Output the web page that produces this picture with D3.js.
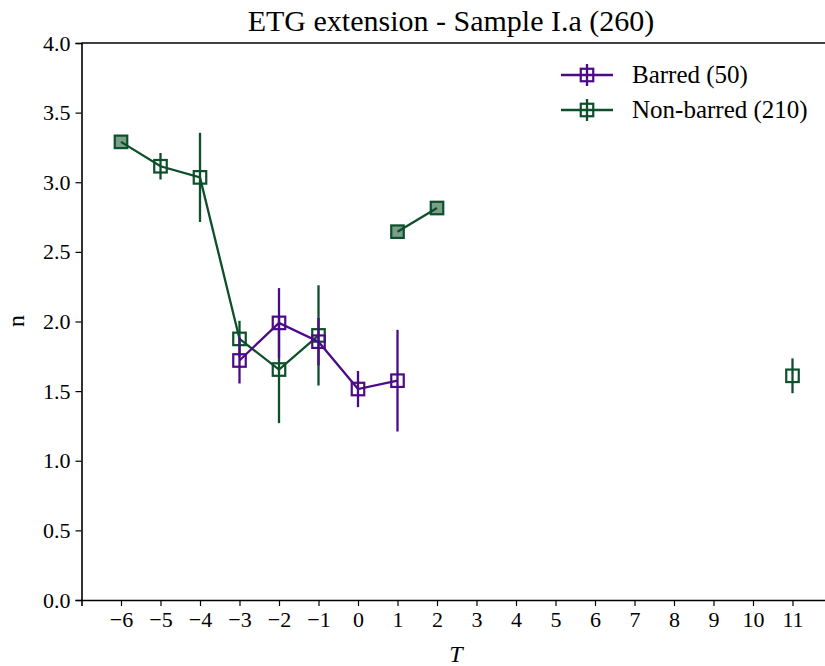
<!DOCTYPE html>
<html>
<head>
<meta charset="utf-8">
<script src="https://cdn.jsdelivr.net/npm/d3@7"></script>
<style>
  html, body { margin: 0; padding: 0; background: #fff; }
  svg text { font-family: "Liberation Serif", "Times New Roman", Times, serif; }
</style>
</head>
<body>
<svg id="chart" width="825" height="666"></svg>
<script>
const FONT = "Liberation Serif, Times New Roman, Times, serif";

// Morphological type T on the x axis
const tValues = [-6, -5, -4, -3, -2, -1, 0, 1, 2, 3, 4, 5, 6, 7, 8, 9, 10, 11];
const yTicks = [0.0, 0.5, 1.0, 1.5, 2.0, 2.5, 3.0, 3.5, 4.0];

// Barred galaxies: T, mean n, error
const barredT   = [-3, -2, -1, 0, 1];
const barredN   = [1.72, 1.99, 1.855, 1.515, 1.575];
const barredErr = [0.165, 0.25, 0.17, 0.13, 0.365];
const barredFilled = [false, false, false, false, false];

// Non-barred galaxies (null = no galaxies at that T, which breaks the line)
const nonbarT   = [-6, -5, -4, -3, -2, -1, 0, 1, 2, 3, 4, 5, 6, 7, 8, 9, 10, 11];
const nonbarN   = [3.29, 3.115, 3.035, 1.875, 1.655, 1.90, null, 2.645, 2.815, null, null, null, null, null, null, null, null, 1.61];
const nonbarErr = [0, 0.095, 0.32, 0.13, 0.385, 0.36, null, 0, 0, null, null, null, null, null, null, null, null, 0.125];
const nonbarFilled = [true, false, false, false, false, false, false, true, true, false, false, false, false, false, false, false, false, false];

const series = [
  { name: "Non-barred (210)", color: "#0c4f2a", fill: "rgba(12,79,42,0.55)", t: nonbarT, n: nonbarN, err: nonbarErr, filled: nonbarFilled },
  { name: "Barred (50)", color: "#4b0a87", fill: "rgba(75,10,135,0.55)", t: barredT, n: barredN, err: barredErr, filled: barredFilled }
];
const legendOrder = [series[1], series[0]];

const svg = d3.select("#chart");
const x = d3.scaleLinear().domain([-7, 12]).range([81.5, 832]);
const y = d3.scaleLinear().domain([0, 4]).range([600, 43]);

// Axes
const xAxis = d3.axisBottom(x).tickValues(tValues).tickSize(6).tickPadding(5)
  .tickFormat(d => d < 0 ? "\u2212" + Math.abs(d) : String(d));
const yAxis = d3.axisLeft(y).tickValues(yTicks).tickSize(6).tickPadding(5)
  .tickFormat(d3.format(".1f"));

const gx = svg.append("g").attr("transform", "translate(0,600)").call(xAxis);
const gy = svg.append("g").attr("transform", "translate(81.5,0)").call(yAxis);
[gx, gy].forEach(g => {
  g.attr("font-family", FONT).attr("font-size", 22);
  g.select(".domain").attr("stroke", "#000").attr("stroke-width", 1.6);
  g.selectAll(".tick line").attr("stroke", "#000").attr("stroke-width", 1.2);
  g.selectAll(".tick text").attr("fill", "#000").attr("font-family", FONT).attr("font-size", 22);
});
// top spine
svg.append("line").attr("x1", 81.5).attr("x2", 832).attr("y1", 43).attr("y2", 43)
  .attr("stroke", "#000").attr("stroke-width", 1.6);

// Title and axis labels
svg.append("text").attr("x", 451).attr("y", 31).attr("text-anchor", "middle")
  .attr("font-family", FONT).attr("font-size", 30).text("ETG extension - Sample I.a (260)");
svg.append("text").attr("x", 456).attr("y", 662).attr("text-anchor", "middle")
  .attr("font-family", FONT).attr("font-size", 24).attr("font-style", "italic").text("T");
svg.append("text").attr("transform", "translate(24,321) rotate(-90)").attr("text-anchor", "middle")
  .attr("font-family", FONT).attr("font-size", 24).text("n");

// Series
const line = d3.line().defined(d => d.n !== null).x(d => x(d.t)).y(d => y(d.n));
const ms = 12.5;
series.forEach(s => {
  const pts = s.t.map((t, i) => ({ t, n: s.n[i], e: s.err[i], f: s.filled[i] }));
  const g = svg.append("g");
  g.append("path").datum(pts).attr("d", line).attr("fill", "none")
    .attr("stroke", s.color).attr("stroke-width", 2.3);
  const valid = pts.filter(d => d.n !== null);
  g.selectAll("line.err").data(valid.filter(d => d.e > 0)).join("line")
    .attr("x1", d => x(d.t)).attr("x2", d => x(d.t))
    .attr("y1", d => y(d.n - d.e)).attr("y2", d => y(d.n + d.e))
    .attr("stroke", s.color).attr("stroke-width", 2.3);
  g.selectAll("rect").data(valid).join("rect")
    .attr("x", d => x(d.t) - ms / 2).attr("y", d => y(d.n) - ms / 2)
    .attr("width", ms).attr("height", ms)
    .attr("fill", d => d.f ? s.fill : "none")
    .attr("stroke", s.color).attr("stroke-width", 2.2);
});

// Legend
const lg = svg.append("g");
legendOrder.forEach((s, i) => {
  const cy = 75 + i * 35;
  lg.append("line").attr("x1", 561).attr("x2", 613).attr("y1", cy).attr("y2", cy)
    .attr("stroke", s.color).attr("stroke-width", 2.3);
  lg.append("line").attr("x1", 587).attr("x2", 587).attr("y1", cy - 11).attr("y2", cy + 11)
    .attr("stroke", s.color).attr("stroke-width", 2.3);
  lg.append("rect").attr("x", 587 - ms / 2).attr("y", cy - ms / 2).attr("width", ms).attr("height", ms)
    .attr("fill", "none").attr("stroke", s.color).attr("stroke-width", 2.2);
  lg.append("text").attr("x", 632).attr("y", cy + 8)
    .attr("font-family", FONT).attr("font-size", 25).text(s.name);
});
</script>
</body>
</html>
